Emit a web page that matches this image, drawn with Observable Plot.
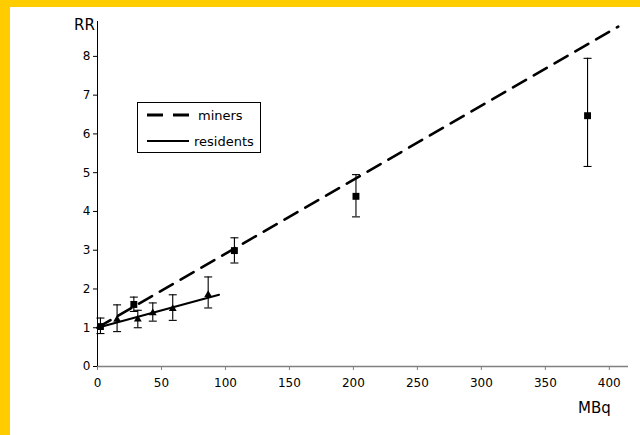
<!DOCTYPE html>
<html><head><meta charset="utf-8">
<script src="https://cdn.jsdelivr.net/npm/d3@7"></script>
<script src="https://cdn.jsdelivr.net/npm/@observablehq/plot@0.6"></script>
<style>
html,body{margin:0;padding:0;background:#fff;}
#wrap{position:relative;width:640px;height:435px;overflow:hidden;font-family:"DejaVu Sans",sans-serif;color:#000;}
#chart{position:absolute;left:0;top:0;}
.band{position:absolute;background:#FFCC00;z-index:3;}
.lbl{position:absolute;font-size:15px;line-height:1;white-space:nowrap;}
#legend{position:absolute;left:137px;top:102px;width:122px;height:49px;border:1px solid #000;background:#fff;z-index:2;}
#legend .row{position:absolute;left:0;height:16px;display:flex;align-items:center;font-size:13px;white-space:nowrap;}
#legend svg{display:block;}
</style></head>
<body>
<div id="wrap">
  <div id="chart"></div>
  <div class="band" style="left:0;top:0;width:640px;height:7px;"></div>
  <div class="band" style="left:0;top:0;width:10px;height:435px;"></div>
  <div class="lbl" style="left:74px;top:18px;">RR</div>
  <div class="lbl" style="left:578px;top:401px;">MBq</div>
  <div id="legend">
    <div class="row" style="top:4px;left:9px;"><svg width="43" height="16"><line x1="0" y1="8" x2="43" y2="8" stroke="#000" stroke-width="3" stroke-dasharray="16,10"/></svg><span style="margin-left:8px">miners</span></div>
    <div class="row" style="top:30px;left:9px;"><svg width="42" height="16"><line x1="0" y1="8" x2="42" y2="8" stroke="#000" stroke-width="2"/></svg><span style="margin-left:5px">residents</span></div>
  </div>
</div>
<script>
// Miners (squares) with 95% CI
const minersX  = [2.3, 28.4, 107, 202, 383];
const minersRR = [1.03, 1.60, 2.99, 4.39, 6.47];
const minersLo = [0.85, 1.42, 2.67, 3.86, 5.16];
const minersHi = [1.25, 1.79, 3.32, 4.95, 7.95];
// Residents (triangles) with 95% CI
const resX  = [15.3, 31.5, 43.2, 58.8, 86.5];
const resRR = [1.21, 1.22, 1.38, 1.49, 1.85];
const resLo = [0.90, 1.00, 1.17, 1.19, 1.51];
const resHi = [1.59, 1.45, 1.64, 1.85, 2.31];
// Fitted lines
const minersFitX  = [0, 407];
const minersFitRR = [1.0, 8.77];
const resFitX  = [0, 95];
const resFitRR = [1.0, 1.85];
// Ticks
const xTicks = [0, 50, 100, 150, 200, 250, 300, 350, 400];
const yTicks = [0, 1, 2, 3, 4, 5, 6, 7, 8];

const miners = minersX.map((x, i) => ({x, rr: minersRR[i], lo: minersLo[i], hi: minersHi[i]}));
const residents = resX.map((x, i) => ({x, rr: resRR[i], lo: resLo[i], hi: resHi[i]}));
const minersFit = minersFitX.map((x, i) => ({x, rr: minersFitRR[i]}));
const resFit = resFitX.map((x, i) => ({x, rr: resFitRR[i]}));
const bars = [...miners, ...residents];

const cap = {draw(ctx, size) { const w = Math.sqrt(size / Math.PI); ctx.moveTo(-w, 0); ctx.lineTo(w, 0); }};

const plot = Plot.plot({
  width: 640, height: 435,
  marginLeft: 97, marginRight: 12, marginTop: 21, marginBottom: 69,
  x: {domain: [0, 415]},
  y: {domain: [0, 8.9]},
  style: {fontFamily: "DejaVu Sans, sans-serif", fontSize: "12px", background: "transparent", color: "#000"},
  marks: [
    Plot.axisX({ticks: xTicks, tickSize: 4, tickPadding: 8, label: null, stroke: "#808080", tickFormat: d => String(d)}),
    Plot.axisY({ticks: yTicks, tickSize: 4, tickPadding: 3, label: null, stroke: "#000", tickFormat: d => String(d)}),
    Plot.ruleY([0], {stroke: "#808080", strokeWidth: 1.3}),
    Plot.ruleX([0], {stroke: "#000", strokeWidth: 1}),
    Plot.line(minersFit, {x: "x", y: "rr", stroke: "#000", strokeWidth: 2.6, strokeDasharray: "15,9"}),
    Plot.line(resFit, {x: "x", y: "rr", stroke: "#000", strokeWidth: 2}),
    Plot.ruleX(bars, {x: "x", y1: "lo", y2: "hi", stroke: "#000", strokeWidth: 1.1}),
    Plot.dot(bars, {x: "x", y: "lo", symbol: cap, r: 4, stroke: "#000", strokeWidth: 1.1, fill: "none"}),
    Plot.dot(bars, {x: "x", y: "hi", symbol: cap, r: 4, stroke: "#000", strokeWidth: 1.1, fill: "none"}),
    Plot.dot(residents, {x: "x", y: "rr", symbol: "triangle", r: 2.9, fill: "#000", stroke: "none"}),
    Plot.dot(miners, {x: "x", y: "rr", symbol: "square", r: 3.9, fill: "#000", stroke: "none"})
  ]
});
document.getElementById("chart").appendChild(plot);
</script>
</body></html>
